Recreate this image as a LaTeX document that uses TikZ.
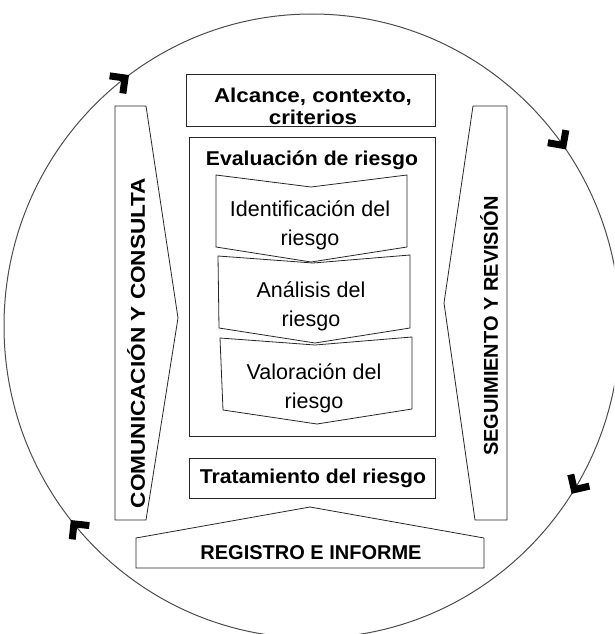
\documentclass[tikz,border=0pt]{standalone}
\usepackage{fontspec}
\setmainfont{Liberation Sans}
\newcommand{\hsc}[2]{\scalebox{#1}[1]{#2}}
\begin{document}
\begin{tikzpicture}[x=1pt,y=-1pt,
  shp/.style={draw=black!85, line width=0.8pt},
  circ/.style={draw=black!70, line width=1pt},
  chev/.style={draw=black, line width=7pt, line join=miter, miter limit=4},
  bt/.style={inner sep=0pt, align=center, font=\fontsize{20}{22}\selectfont\bfseries},
  rt/.style={inner sep=0pt, align=center, font=\fontsize{21.5}{29}\selectfont}]
\useasboundingbox (0,0) rectangle (614,634);
\clip (0,0) rectangle (614,634);
% cycle
\draw[circ] (312,326) ellipse [x radius=308pt, y radius=312pt];
\foreach \t in {127,35,-32,219}{
  \begin{scope}[shift={({312+308*cos(\t)},{326-312*sin(\t)})}, rotate=\t-90]
    \draw[chev] (-13,11) -- (-2,0) -- (-13,-11);
  \end{scope}
}
% side arrows
\draw[shp] (115,106) -- (146,106) -- (178,318) -- (146,520) -- (115,520) -- cycle;
\draw[shp] (473,106) -- (507,106) -- (507,520) -- (475,520) -- (444,303) -- cycle;
\draw[shp] (136,538) -- (310,507) -- (484,538) -- (484,568) -- (136,568) -- cycle;
% boxes
\draw[shp] (186,74) rectangle (435,126);
\draw[shp] (189,137) rectangle (435,436);
\draw[shp] (189,458) rectangle (435,498);
% chevrons
\draw[shp] (216,175) -- (311,187) -- (407,175) -- (407,247) -- (311,262) -- (216,247) -- cycle;
\draw[shp] (218,256) -- (313,263) -- (410,255) -- (410,328) -- (315,343) -- (219,328) -- cycle;
\draw[shp] (220,338) -- (315,345) -- (412,337) -- (412,409) -- (317,424) -- (223,410) -- cycle;
% texts
\node[bt] (alc) at (313,106) {\hsc{1.12}{Alcance, contexto,}\\\hsc{1.12}{criterios}};
\node[bt] (eva) at (312,160) {\hsc{1.06}{Evaluación de riesgo}};
\node[rt] (idr) at (310,225) {Identificación del\\riesgo};
\node[rt] (anr) at (311,306) {Análisis del\\riesgo};
\node[rt] (var) at (314,388) {Valoración del\\riesgo};
\node[bt] (tra) at (313,478) {\hsc{1.06}{Tratamiento del riesgo}};
\node[bt] (reg) at (311,553) {REGISTRO E INFORME};
\node[bt, rotate=90] (com) at (136,343) {\hsc{1.13}{COMUNICACIÓN Y CONSULTA}};
\node[bt, rotate=90] (seg) at (489,326) {SEGUIMIENTO Y REVISIÓN};
\end{tikzpicture}
\end{document}
